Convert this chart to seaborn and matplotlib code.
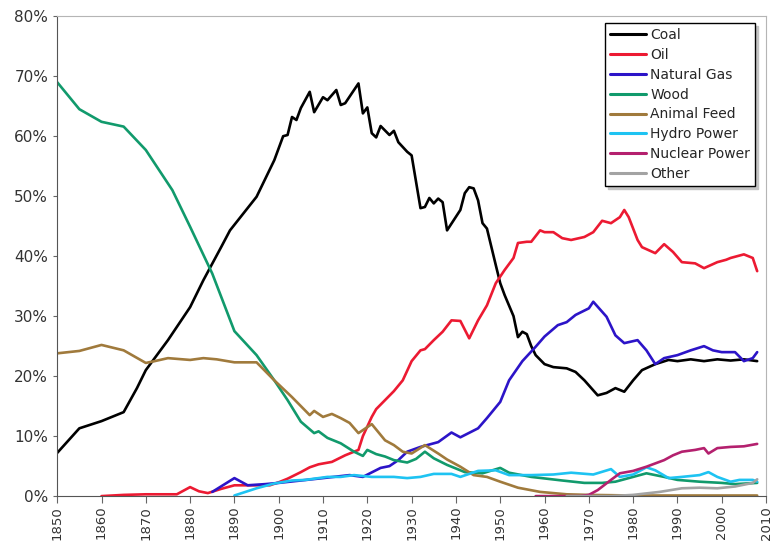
import pandas as pd
import matplotlib.pyplot as plt
import seaborn as sns
from matplotlib.ticker import PercentFormatter

coal_years = [1850, 1855, 1860, 1865, 1868, 1870, 1875, 1880, 1883, 1887, 1889, 1895, 1899, 1901, 1902,
              1903, 1904, 1905, 1907, 1908, 1910, 1911, 1913, 1914, 1915, 1918, 1919, 1920, 1921, 1922,
              1923, 1925, 1926, 1927, 1929, 1930, 1932, 1933, 1934, 1935, 1936, 1937, 1938, 1941, 1942,
              1943, 1944, 1945, 1946, 1947, 1949, 1950, 1951, 1953, 1954, 1955, 1956, 1957, 1958, 1960,
              1962, 1965, 1967, 1969, 1972, 1974, 1976, 1978, 1980, 1982, 1985, 1988, 1990, 1993, 1996,
              1999, 2002, 2005, 2008]
coal = [7.2, 11.3, 12.5, 14.0, 18.0, 21.0, 26.0, 31.5, 36.0, 41.5, 44.3, 49.9, 56.0, 60.0, 60.2,
        63.2, 62.7, 64.7, 67.4, 64.0, 66.5, 66.0, 67.7, 65.2, 65.5, 68.8, 63.8, 64.8, 60.5, 59.8,
        61.7, 60.2, 60.9, 59.0, 57.4, 56.8, 48.0, 48.2, 49.7, 48.8, 49.6, 49.0, 44.3, 47.7, 50.5,
        51.5, 51.3, 49.3, 45.5, 44.6, 38.5, 35.5, 33.5, 30.0, 26.5, 27.4, 27.0, 25.0, 23.5, 22.0,
        21.5, 21.3, 20.7, 19.3, 16.8, 17.2, 18.0, 17.4, 19.3, 21.0, 22.0, 22.7, 22.5, 22.8, 22.5,
        22.8, 22.6, 22.8, 22.5]

oil_years = [1860, 1865, 1870, 1877, 1880, 1882, 1884, 1887, 1890, 1895, 1898, 1900, 1902, 1905, 1907,
             1909, 1912, 1915, 1918, 1919, 1921, 1922, 1924, 1926, 1928, 1930, 1932, 1933, 1935, 1937,
             1939, 1941, 1943, 1945, 1947, 1949, 1951, 1953, 1954, 1956, 1957, 1959, 1960, 1962, 1964,
             1966, 1969, 1971, 1973, 1975, 1977, 1978, 1979, 1981, 1982, 1985, 1987, 1989, 1991, 1994,
             1996, 1999, 2001, 2002, 2005, 2007, 2008]
oil = [0.0, 0.2, 0.3, 0.3, 1.5, 0.8, 0.5, 1.2, 1.8, 1.8, 1.8, 2.3, 2.9, 4.0, 4.8,
       5.3, 5.7, 6.8, 7.7, 10.0, 13.2, 14.5, 16.0, 17.5, 19.3, 22.5, 24.3, 24.5, 26.0, 27.4,
       29.3, 29.2, 26.3, 29.3, 31.8, 35.5, 37.7, 39.7, 42.2, 42.4, 42.4, 44.3, 44.0, 44.0, 43.0,
       42.7, 43.2, 44.0, 45.9, 45.5, 46.5, 47.7, 46.5, 42.7, 41.5, 40.5, 42.0, 40.7, 39.0, 38.8,
       38.0, 39.0, 39.4, 39.7, 40.3, 39.7, 37.5]

gas_years = [1885, 1890, 1893, 1897, 1900, 1905, 1910, 1916, 1919, 1923, 1925, 1927, 1929, 1932, 1936,
             1939, 1941, 1945, 1947, 1950, 1952, 1955, 1958, 1960, 1963, 1965, 1967, 1970, 1971, 1974,
             1976, 1978, 1981, 1983, 1985, 1987, 1990, 1993, 1996, 1998, 2000, 2003, 2005, 2007, 2008]
gas = [0.7, 3.0, 1.8, 2.0, 2.2, 2.6, 3.0, 3.5, 3.2, 4.7, 5.0, 6.0, 7.4, 8.2, 9.0,
       10.6, 9.8, 11.3, 13.0, 15.7, 19.3, 22.5, 24.9, 26.6, 28.5, 29.0, 30.2, 31.3, 32.4, 29.9,
       26.8, 25.5, 26.0, 24.3, 22.0, 23.0, 23.5, 24.3, 25.0, 24.3, 24.0, 24.0, 22.5, 23.0, 24.0]

wood_years = [1850, 1855, 1860, 1865, 1870, 1876, 1880, 1885, 1890, 1895, 1899, 1902, 1905, 1908, 1909,
              1911, 1914, 1917, 1919, 1920, 1922, 1924, 1926, 1929, 1931, 1933, 1935, 1938, 1942, 1946,
              1950, 1952, 1957, 1964, 1969, 1973, 1976, 1980, 1983, 1987, 1990, 1995, 2000, 2003, 2008]
wood = [69.0, 64.5, 62.4, 61.6, 57.7, 51.0, 44.9, 37.1, 27.5, 23.5, 19.3, 16.0, 12.4, 10.5, 10.8,
        9.7, 8.8, 7.4, 6.7, 7.7, 7.0, 6.6, 6.0, 5.6, 6.2, 7.4, 6.3, 5.2, 4.0, 3.8,
        4.7, 3.9, 3.2, 2.6, 2.2, 2.2, 2.4, 3.2, 3.8, 3.2, 2.7, 2.4, 2.2, 2.0, 2.2]

feed_years = [1850, 1855, 1860, 1865, 1870, 1872, 1875, 1880, 1883, 1886, 1890, 1895, 1899, 1903, 1905,
              1907, 1908, 1910, 1912, 1914, 1916, 1918, 1920, 1921, 1924, 1926, 1928, 1930, 1933, 1936,
              1938, 1941, 1944, 1947, 1950, 1954, 1959, 1965, 1970, 1980, 2008]
feed = [23.8, 24.2, 25.2, 24.3, 22.2, 22.5, 23.0, 22.7, 23.0, 22.8, 22.3, 22.3, 19.3, 16.5, 15.0,
        13.5, 14.2, 13.2, 13.7, 13.0, 12.2, 10.5, 11.5, 12.0, 9.3, 8.5, 7.4, 7.1, 8.5, 7.1,
        6.1, 4.9, 3.5, 3.2, 2.4, 1.4, 0.7, 0.3, 0.2, 0.1, 0.1]

hydro_years = [1890, 1895, 1899, 1903, 1906, 1911, 1914, 1917, 1921, 1926, 1929, 1932, 1935, 1939, 1941,
               1945, 1949, 1952, 1957, 1962, 1966, 1971, 1975, 1977, 1980, 1983, 1985, 1988, 1991, 1995,
               1997, 1999, 2002, 2004, 2007, 2008]
hydro = [0.1, 1.3, 2.1, 2.6, 2.7, 3.2, 3.2, 3.5, 3.2, 3.2, 3.0, 3.2, 3.7, 3.7, 3.2,
         4.2, 4.3, 3.5, 3.5, 3.6, 3.9, 3.6, 4.5, 3.2, 3.6, 4.8, 4.3, 3.0, 3.2, 3.5,
         4.0, 3.2, 2.4, 2.7, 2.7, 2.4]

nuclear_years = [1958, 1968, 1970, 1972, 1975, 1977, 1980, 1983, 1987, 1989, 1991, 1994, 1996, 1997, 1999,
                 2002, 2005, 2008]
nuclear = [0.0, 0.0, 0.2, 1.0, 2.7, 3.8, 4.2, 4.9, 6.0, 6.8, 7.4, 7.7, 8.0, 7.1, 8.0,
           8.2, 8.3, 8.7]

other_years = [1965, 1975, 1980, 1986, 1991, 1995, 1999, 2003, 2007, 2008]
other = [0.0, 0.0, 0.2, 0.7, 1.3, 1.4, 1.3, 1.6, 2.2, 2.8]

sources = ["Coal", "Oil", "Natural Gas", "Wood", "Animal Feed", "Hydro Power", "Nuclear Power", "Other"]
colors = ["#000000", "#ec1a32", "#2c14c8", "#119a6c", "#a07a3c", "#1ec3f2", "#b4206e", "#a3a3a3"]

series = [(coal_years, coal), (oil_years, oil), (gas_years, gas), (wood_years, wood),
          (feed_years, feed), (hydro_years, hydro), (nuclear_years, nuclear), (other_years, other)]

frames = []
for name, (yrs, vals) in zip(sources, series):
    frames.append(pd.DataFrame({"year": yrs, "share": vals, "source": name}))
df = pd.concat(frames, ignore_index=True)

sns.set_style("white")
plt.rcParams["font.family"] = ["DejaVu Sans"]

fig, ax = plt.subplots(figsize=(7.73, 5.41), dpi=100)
fig.subplots_adjust(left=0.074, right=0.991, top=0.970, bottom=0.083)

sns.lineplot(data=df, x="year", y="share", hue="source", hue_order=sources,
             palette=colors, linewidth=1.9, ax=ax, sort=True, estimator=None)

ax.set_xlim(1850, 2010)
ax.set_ylim(0, 80)
ax.set_xticks(range(1850, 2011, 10))
ax.set_yticks(range(0, 81, 10))
ax.yaxis.set_major_formatter(PercentFormatter(decimals=0))
ax.tick_params(axis="x", rotation=90, labelsize=9.5, length=5, pad=2, color="#666666",
               direction="out", bottom=True, labelcolor="#333333")
ax.tick_params(axis="y", labelsize=11, length=3, color="#666666", left=True, labelcolor="#333333")
ax.set_xlabel("")
ax.set_ylabel("")

for side in ["left", "bottom"]:
    ax.spines[side].set_color("#555555")
for side in ["top", "right"]:
    ax.spines[side].set_color("#b5b5b5")

leg = ax.legend(loc="upper right", bbox_to_anchor=(0.994, 1.0), fontsize=10, frameon=True,
                fancybox=False, shadow={"color": "#c4c4c4", "alpha": 1.0}, handlelength=2.6,
                labelspacing=0.42, handletextpad=0.3, borderpad=0.35)
leg.get_frame().set_edgecolor("#000000")
leg.get_frame().set_linewidth(1.0)
for line in leg.get_lines():
    line.set_linewidth(2.2)

fig.savefig("out.png", dpi=100)
